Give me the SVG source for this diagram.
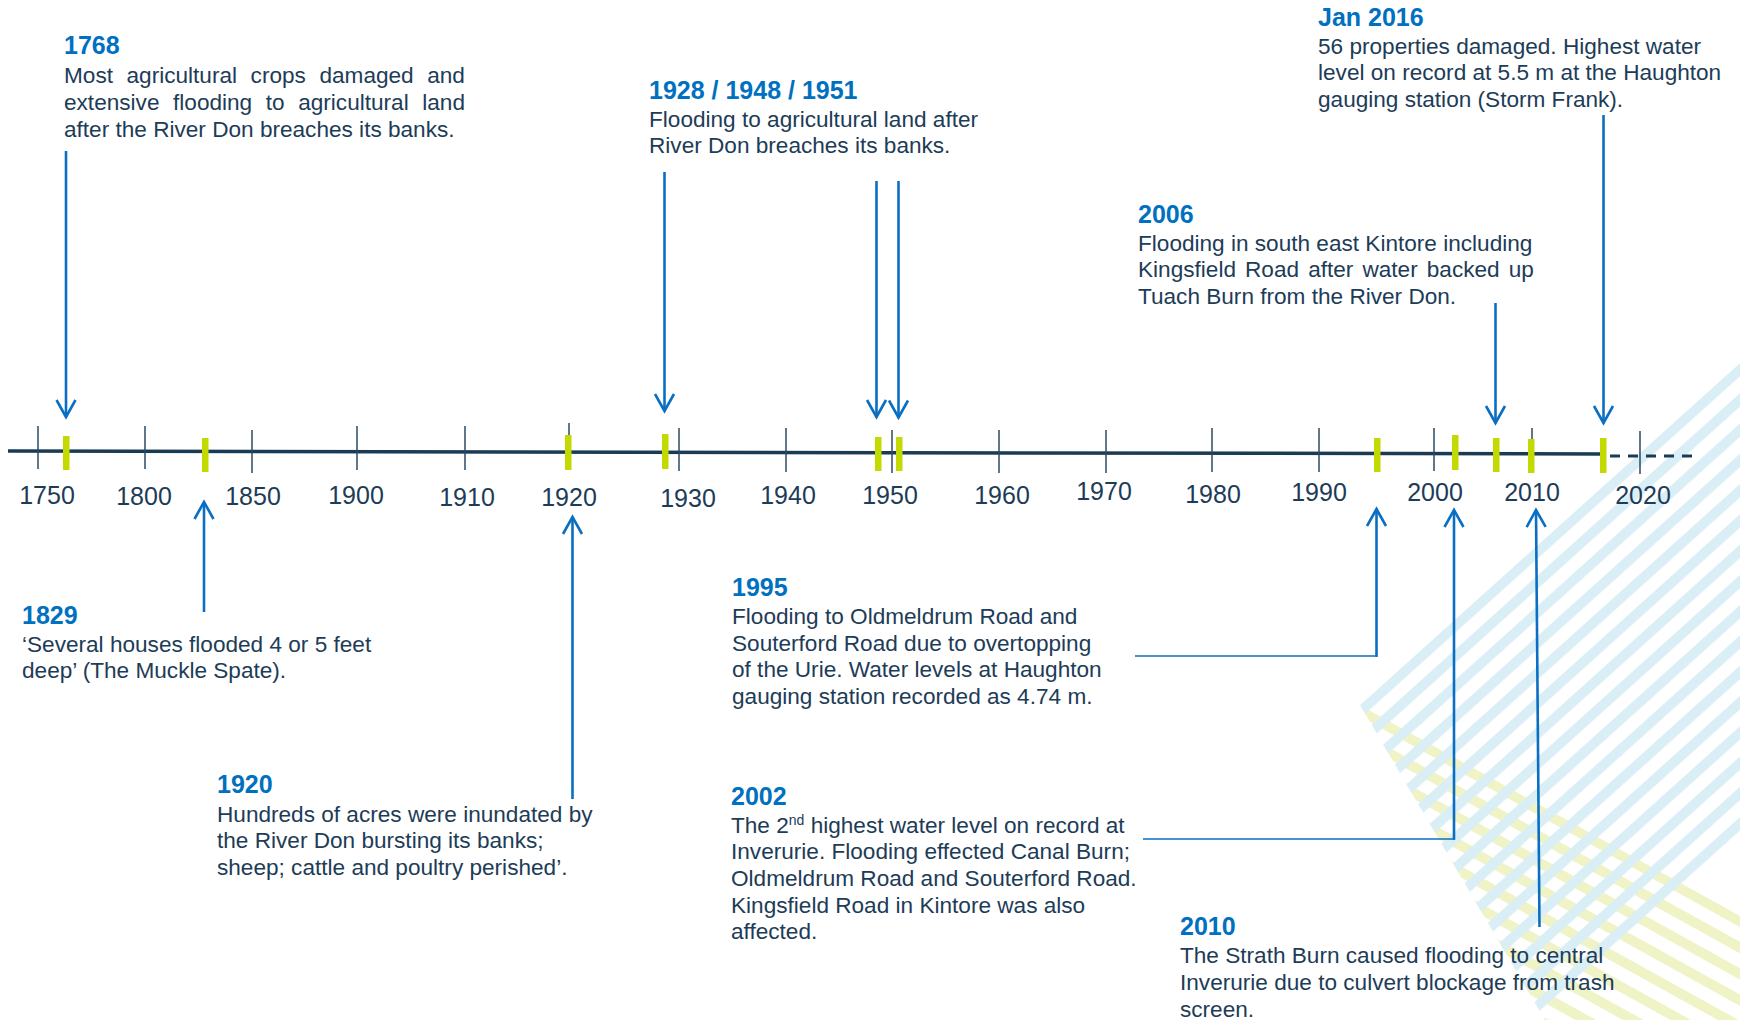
<svg xmlns="http://www.w3.org/2000/svg" width="1740" height="1020" viewBox="0 0 1740 1020">
<style>
.t{font-family:"Liberation Sans",Arial,sans-serif;font-weight:bold;font-size:25px;fill:#0070c0}
.b{font-family:"Liberation Sans",Arial,sans-serif;font-size:22.6px;fill:#1d3c57}
.ax{font-family:"Liberation Sans",Arial,sans-serif;font-size:25px;fill:#1d3c57;text-anchor:middle}
.tick{stroke:#2b4862;stroke-width:1.5}
.mk{fill:#c3da00}
.arr{stroke:#0a6fc2;stroke-width:2.6;fill:none;marker-end:url(#ah)}
.lead{stroke:#0a6fc2;stroke-width:1.6;fill:none}
</style>
<defs>
<marker id="ah" markerUnits="userSpaceOnUse" orient="auto" markerWidth="24" markerHeight="24" viewBox="-20 -12 24 24" refX="0" refY="0" overflow="visible">
<path d="M-17,-9.5 L0,0 L-17,9.5" fill="none" stroke="#0a6fc2" stroke-width="2.6"/>
</marker>
<pattern id="blueStripes" patternUnits="userSpaceOnUse" width="40" height="22.5" patternTransform="translate(1360,705) rotate(-42)">
<rect x="0" y="0" width="40" height="10" fill="#daeef6"/>
</pattern>
<pattern id="yellowStripes" patternUnits="userSpaceOnUse" width="40" height="23" patternTransform="translate(1360,705) rotate(29)">
<rect x="0" y="0" width="40" height="10" fill="#eff3c6"/>
</pattern>
</defs>
<rect x="0" y="0" width="1740" height="1020" fill="#ffffff"/>

<g id="decor">
<polygon points="1360,705 1740,916 1740,1020 1545,1020" fill="url(#yellowStripes)"/>
<polygon points="1360,705 1740,363 1740,845 1545,1020" fill="url(#blueStripes)"/>
</g>

<g id="axis">
<line x1="8" y1="451" x2="1606" y2="454" stroke="#1a3b54" stroke-width="3.5"/>
<line x1="1610" y1="456" x2="1694" y2="456" stroke="#1a3b54" stroke-width="3" stroke-dasharray="10 8"/>
<line class="tick" x1="38" y1="426" x2="38" y2="469"/>
<line class="tick" x1="145" y1="426" x2="145" y2="469"/>
<line class="tick" x1="252" y1="430" x2="252" y2="473"/>
<line class="tick" x1="357" y1="426" x2="357" y2="470"/>
<line class="tick" x1="465" y1="426" x2="465" y2="470"/>
<line class="tick" x1="569" y1="423" x2="569" y2="470"/>
<line class="tick" x1="679" y1="428" x2="679" y2="471"/>
<line class="tick" x1="786" y1="428" x2="786" y2="472"/>
<line class="tick" x1="892" y1="430" x2="892" y2="473"/>
<line class="tick" x1="999" y1="430" x2="999" y2="473"/>
<line class="tick" x1="1106" y1="430" x2="1106" y2="473"/>
<line class="tick" x1="1212" y1="428" x2="1212" y2="472"/>
<line class="tick" x1="1319" y1="428" x2="1319" y2="472"/>
<line class="tick" x1="1434" y1="428" x2="1434" y2="471"/>
<line class="tick" x1="1532" y1="428" x2="1532" y2="472"/>
<line class="tick" x1="1640" y1="431" x2="1640" y2="474"/>
<rect class="mk" x="63" y="436" width="6.5" height="34"/>
<rect class="mk" x="202" y="438" width="6.5" height="34"/>
<rect class="mk" x="565" y="435" width="6.5" height="35"/>
<rect class="mk" x="662" y="434" width="6.5" height="35"/>
<rect class="mk" x="875" y="437" width="6.5" height="34"/>
<rect class="mk" x="896" y="437" width="6.5" height="34"/>
<rect class="mk" x="1374" y="438" width="6.5" height="34"/>
<rect class="mk" x="1452" y="435" width="6.5" height="35"/>
<rect class="mk" x="1493" y="438" width="6.5" height="34"/>
<rect class="mk" x="1528" y="439" width="6.5" height="34"/>
<rect class="mk" x="1600" y="438" width="6.5" height="35"/>
<text class="ax" x="47" y="504">1750</text>
<text class="ax" x="144" y="505">1800</text>
<text class="ax" x="253" y="505">1850</text>
<text class="ax" x="356" y="504">1900</text>
<text class="ax" x="467" y="506">1910</text>
<text class="ax" x="569" y="506">1920</text>
<text class="ax" x="688" y="507">1930</text>
<text class="ax" x="788" y="504">1940</text>
<text class="ax" x="890" y="504">1950</text>
<text class="ax" x="1002" y="504">1960</text>
<text class="ax" x="1104" y="500">1970</text>
<text class="ax" x="1213" y="503">1980</text>
<text class="ax" x="1319" y="501">1990</text>
<text class="ax" x="1435" y="501">2000</text>
<text class="ax" x="1532" y="501">2010</text>
<text class="ax" x="1643" y="504">2020</text>
</g>

<g id="connectors">
<line class="arr" x1="66" y1="151" x2="66" y2="417"/>
<line class="arr" x1="664.5" y1="172" x2="664.5" y2="411"/>
<line class="arr" x1="876.5" y1="181" x2="876.5" y2="417"/>
<line class="arr" x1="898.5" y1="181" x2="898.5" y2="417.5"/>
<line class="arr" x1="1495.5" y1="303" x2="1495.5" y2="423"/>
<line class="arr" x1="1603.5" y1="115" x2="1603.5" y2="423"/>
<line class="arr" x1="204" y1="612" x2="204" y2="502"/>
<line class="arr" x1="572.5" y1="799" x2="572.5" y2="517"/>
<line class="lead" x1="1135" y1="656" x2="1377.5" y2="656"/>
<line class="arr" x1="1376.5" y1="656.8" x2="1376.5" y2="509"/>
<line class="lead" x1="1143" y1="839" x2="1455" y2="839"/>
<line class="arr" x1="1454" y1="839.8" x2="1454" y2="510"/>
<line class="arr" x1="1539.5" y1="927" x2="1536" y2="510"/>
</g>

<g id="ev-1768">
<text class="t" x="64" y="54">1768</text>
<text class="b" x="64" y="82.5" word-spacing="7.3">Most agricultural crops damaged and</text>
<text class="b" x="64" y="109.5" word-spacing="7.3">extensive flooding to agricultural land</text>
<text class="b" x="64" y="136.5">after the River Don breaches its banks.</text>
</g>

<g id="ev-1928-1948-1951">
<text class="t" x="649" y="99">1928 / 1948 / 1951</text>
<text class="b" x="649" y="126.5">Flooding to agricultural land after</text>
<text class="b" x="649" y="153">River Don breaches its banks.</text>
</g>

<g id="ev-2016">
<text class="t" x="1318" y="26">Jan 2016</text>
<text class="b" x="1318" y="53.5">56 properties damaged. Highest water</text>
<text class="b" x="1318" y="80">level on record at 5.5 m at the Haughton</text>
<text class="b" x="1318" y="106.5">gauging station (Storm Frank).</text>
</g>

<g id="ev-2006">
<text class="t" x="1138" y="222.5">2006</text>
<text class="b" x="1138" y="250.5">Flooding in south east Kintore including</text>
<text class="b" x="1138" y="277" word-spacing="2.8">Kingsfield Road after water backed up</text>
<text class="b" x="1138" y="303.5">Tuach Burn from the River Don.</text>
</g>

<g id="ev-1829">
<text class="t" x="22" y="623.5">1829</text>
<text class="b" x="22" y="651.5">‘Several houses flooded 4 or 5 feet</text>
<text class="b" x="22" y="678">deep’ (The Muckle Spate).</text>
</g>

<g id="ev-1920">
<text class="t" x="217" y="793">1920</text>
<text class="b" x="217" y="821.5">Hundreds of acres were inundated by</text>
<text class="b" x="217" y="848">the River Don bursting its banks;</text>
<text class="b" x="217" y="875">sheep; cattle and poultry perished’.</text>
</g>

<g id="ev-1995">
<text class="t" x="732" y="595.5">1995</text>
<text class="b" x="732" y="624">Flooding to Oldmeldrum Road and</text>
<text class="b" x="732" y="650.5">Souterford Road due to overtopping</text>
<text class="b" x="732" y="677">of the Urie. Water levels at Haughton</text>
<text class="b" x="732" y="704">gauging station recorded as 4.74 m.</text>
</g>

<g id="ev-2002">
<text class="t" x="731" y="804.5">2002</text>
<text class="b" x="731" y="832.5">The 2<tspan font-size="14" dy="-8">nd</tspan><tspan dy="8"> highest water level on record at</tspan></text>
<text class="b" x="731" y="859">Inverurie. Flooding effected Canal Burn;</text>
<text class="b" x="731" y="886">Oldmeldrum Road and Souterford Road.</text>
<text class="b" x="731" y="912.5">Kingsfield Road in Kintore was also</text>
<text class="b" x="731" y="939">affected.</text>
</g>

<g id="ev-2010">
<text class="t" x="1180" y="935">2010</text>
<text class="b" x="1180" y="963">The Strath Burn caused flooding to central</text>
<text class="b" x="1180" y="990">Inverurie due to culvert blockage from trash</text>
<text class="b" x="1180" y="1016.5">screen.</text>
</g>
</svg>
